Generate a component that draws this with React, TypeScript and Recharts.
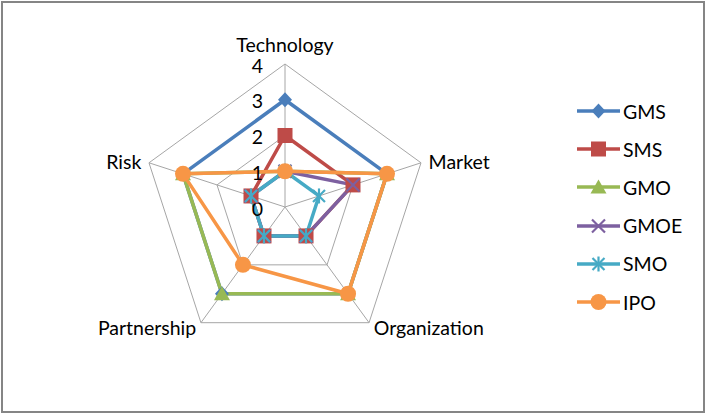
import { RadarChart, Radar, PolarGrid, PolarAngleAxis, PolarRadiusAxis, Legend } from 'recharts';

const categories = ['Technology', 'Market', 'Organization', 'Partnership', 'Risk'];
const gmsValues = [3, 3, 3, 3, 3];
const smsValues = [2, 2, 1, 1, 1];
const gmoValues = [1, 3, 3, 3, 3];
const gmoeValues = [1, 2, 1, 1, 1];
const smoValues = [1, 1, 1, 1, 1];
const ipoValues = [1, 3, 3, 2, 3];
const radiusTicks = [0, 1, 2, 3, 4];

type Shape = 'diamond' | 'square' | 'triangle' | 'x' | 'star' | 'circle';

const SERIES: { key: string; color: string; shape: Shape; values: number[] }[] = [
  { key: 'GMS', color: '#4a7ebb', shape: 'diamond', values: gmsValues },
  { key: 'SMS', color: '#be4b48', shape: 'square', values: smsValues },
  { key: 'GMO', color: '#98b954', shape: 'triangle', values: gmoValues },
  { key: 'GMOE', color: '#7d60a0', shape: 'x', values: gmoeValues },
  { key: 'SMO', color: '#46aac5', shape: 'star', values: smoValues },
  { key: 'IPO', color: '#f79646', shape: 'circle', values: ipoValues },
];

const data = categories.map((name, i) => {
  const row: Record<string, string | number> = { name };
  SERIES.forEach((s) => { row[s.key] = s.values[i]; });
  return row;
});

const FONT = 'Lato, "Open Sans", sans-serif';
const FONT_SIZE = 19.5;
const CY = 207;

function Marker({ cx, cy, shape, color }: { cx: number; cy: number; shape: Shape; color: string }) {
  switch (shape) {
    case 'diamond':
      return <polygon points={`${cx},${cy - 7.5} ${cx + 7},${cy} ${cx},${cy + 7.5} ${cx - 7},${cy}`} fill={color} />;
    case 'square':
      return <rect x={cx - 7.5} y={cy - 7.5} width={15} height={15} fill={color} />;
    case 'triangle':
      return <polygon points={`${cx},${cy - 7.5} ${cx + 8},${cy + 6.5} ${cx - 8},${cy + 6.5}`} fill={color} />;
    case 'x':
      return (
        <g stroke={color} strokeWidth={2.2}>
          <line x1={cx - 6.5} y1={cy - 6.5} x2={cx + 6.5} y2={cy + 6.5} />
          <line x1={cx - 6.5} y1={cy + 6.5} x2={cx + 6.5} y2={cy - 6.5} />
        </g>
      );
    case 'star':
      return (
        <g stroke={color} strokeWidth={2.2}>
          <line x1={cx - 6} y1={cy - 6} x2={cx + 6} y2={cy + 6} />
          <line x1={cx - 6} y1={cy + 6} x2={cx + 6} y2={cy - 6} />
          <line x1={cx} y1={cy - 7.5} x2={cx} y2={cy + 7.5} />
        </g>
      );
    default:
      return <circle cx={cx} cy={cy} r={8} fill={color} />;
  }
}

function AngleTick(props: any) {
  const { x, y, payload, textAnchor } = props;
  const top = textAnchor === 'middle';
  const ty = top ? y - 12 : y > CY ? y - 2 : y + 1;
  return (
    <text
      x={x}
      y={ty}
      textAnchor={textAnchor}
      dominantBaseline="central"
      fontFamily={FONT}
      fontSize={FONT_SIZE}
      fill="#000"
    >
      {payload.value}
    </text>
  );
}

function RadiusTick(props: any) {
  const { x, y, payload } = props;
  return (
    <text x={x - 22} y={y + 1} textAnchor="end" dominantBaseline="central" fontFamily={FONT} fontSize={FONT_SIZE} fill="#000">
      {payload.value}
    </text>
  );
}

function LegendBox() {
  return (
    <div style={{ display: 'flex', flexDirection: 'column' }}>
      {SERIES.map((s) => (
        <div key={s.key} style={{ display: 'flex', alignItems: 'center', height: 38.2 }}>
          <svg width={46} height={20}>
            <line x1={1} y1={10} x2={44} y2={10} stroke={s.color} strokeWidth={3.5} />
            <Marker cx={22.5} cy={10} shape={s.shape} color={s.color} />
          </svg>
          <span style={{ fontFamily: FONT, fontSize: FONT_SIZE, color: '#000', marginLeft: 1 }}>{s.key}</span>
        </div>
      ))}
    </div>
  );
}

export default function App() {
  return (
    <div style={{ position: 'absolute', left: 0, top: 0, width: 707, height: 414, background: '#fff' }}>
      <div style={{
        position: 'absolute', left: 1, top: 1, width: 704, height: 412,
        border: '2px solid #858585', boxSizing: 'border-box',
      }} />
      <div style={{ position: 'absolute', left: 0, top: 0 }}>
        <RadarChart width={707} height={414} cx={285} cy={CY} outerRadius={143} data={data}>
          <PolarGrid gridType="polygon" stroke="#a6a6a6" strokeWidth={1} />
          <PolarAngleAxis dataKey="name" tick={<AngleTick />} tickLine={false} axisLine={false} />
          <PolarRadiusAxis
            angle={90}
            domain={[0, 4]}
            ticks={radiusTicks as any}
            tickCount={5}
            axisLine={false}
            tick={<RadiusTick />}
          />
          {SERIES.map((s) => (
            <Radar
              key={s.key}
              name={s.key}
              dataKey={s.key}
              stroke={s.color}
              strokeWidth={3.5}
              strokeLinejoin="round"
              fill="none"
              fillOpacity={0}
              isAnimationActive={false}
              dot={(p: any) => <Marker key={`${s.key}-${p.index}`} cx={p.cx} cy={p.cy} shape={s.shape} color={s.color} />}
            />
          ))}
          <Legend
            layout="vertical"
            align="right"
            verticalAlign="top"
            content={<LegendBox />}
            wrapperStyle={{ position: 'absolute', left: 576, top: 92, width: 125 }}
          />
        </RadarChart>
      </div>
    </div>
  );
}
